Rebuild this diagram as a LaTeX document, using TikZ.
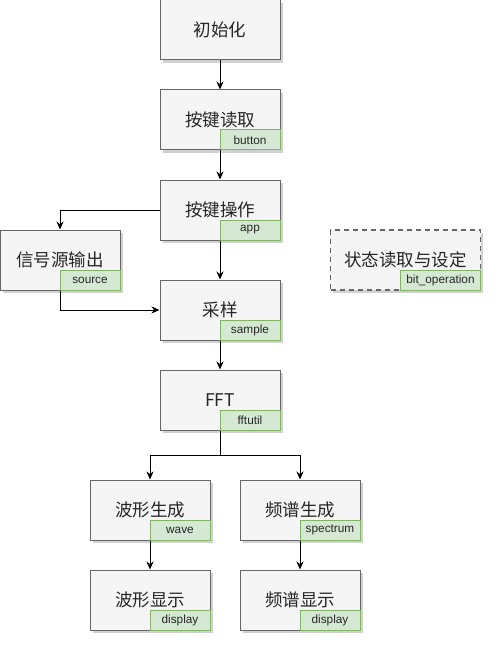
\documentclass[tikz,border=0pt]{standalone}
\usepackage{fontspec}
\setmainfont{Noto Sans CJK SC}
\newfontfamily\lblfont{Liberation Sans}
\usetikzlibrary{arrows.meta,shadows,positioning}
\definecolor{boxfill}{HTML}{F5F5F5}
\definecolor{boxline}{HTML}{666666}
\definecolor{tagfill}{HTML}{D5E8D4}
\definecolor{tagline}{HTML}{82B366}
\tikzset{
  mainbox/.style={draw=boxline, fill=boxfill, line width=1pt, minimum width=120pt, minimum height=60pt, inner sep=0pt,
    font=\fontsize{17.5}{19}\selectfont, text=black!85,
    drop shadow={shadow xshift=2.5pt, shadow yshift=-3pt, opacity=0.3, fill=black!60}},
  tagbox/.style={draw=tagline, fill=tagfill, line width=1pt, minimum width=60pt, minimum height=20pt, inner sep=0pt,
    font=\lblfont\fontsize{11.8}{13}\selectfont, text=black!85, anchor=south east},
  flow/.style={draw=black, line width=1pt, -{Stealth[length=8pt,width=7pt]}}
}
\begin{document}
\begin{tikzpicture}[x=1pt,y=-1pt]
\useasboundingbox (0,0) rectangle (496,647);
% main boxes
\node[mainbox] (init) at (220,30) {初始化};
\node[mainbox] (read) at (220,120) {按键读取};
\node[mainbox] (op) at (220,210) {按键操作};
\node[mainbox] (src) at (60,260) {信号源输出};
\node[mainbox] (samp) at (220,310) {采样};
\node[mainbox, minimum width=150pt, dash pattern=on 5pt off 4pt, line width=1.5pt] (bit) at (405.5,260) {状态读取与设定};
\node[mainbox] (fft) at (220,400) {FFT};
\node[mainbox] (wgen) at (150,510) {波形生成};
\node[mainbox] (sgen) at (300,510) {频谱生成};
\node[mainbox] (wdisp) at (150,600) {波形显示};
\node[mainbox] (sdisp) at (300,600) {频谱显示};
% module tags
\node[tagbox] (tread) at (read.south east) {button};
\node[tagbox] (top) at (op.south east) {app};
\node[tagbox] (tsrc) at (src.south east) {source};
\node[tagbox] (tsamp) at (samp.south east) {sample};
\node[tagbox, minimum width=80pt] (tbit) at ([xshift=-0.25pt,yshift=0.25pt]bit.south east) {bit\_operation};
\node[tagbox] (tfft) at (fft.south east) {fftutil};
\node[tagbox] (twgen) at (wgen.south east) {wave};
\node[tagbox] (tsgen) at (sgen.south east) {spectrum};
\node[tagbox] (twdisp) at (wdisp.south east) {display};
\node[tagbox] (tsdisp) at (sdisp.south east) {display};
% connectors
\coordinate (fork) at (220,455);
\draw[flow] (init) -- (read);
\draw[flow] (read) -- (op);
\draw[flow] (op) -- (samp);
\draw[flow] (op.west) -| (src.north);
\draw[flow] (src.south) |- (samp.west);
\draw[flow] (samp) -- (fft);
\draw[flow] (fft.south) -- (fork) -| (wgen.north);
\draw[flow] (fork) -| (sgen.north);
\draw[flow] (wgen) -- (wdisp);
\draw[flow] (sgen) -- (sdisp);
\end{tikzpicture}
\end{document}
